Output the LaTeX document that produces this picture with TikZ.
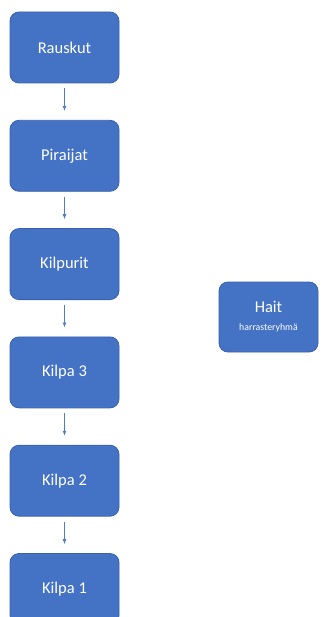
\documentclass[tikz,border=0pt]{standalone}
\usepackage{fontspec}
\setmainfont{Carlito}
\usepackage{tikz}
\usetikzlibrary{arrows.meta,positioning}
\definecolor{boxblue}{HTML}{4472C4}
\definecolor{boxedge}{HTML}{3A62AC}
\definecolor{arrowblue}{HTML}{4F7BC9}

\begin{document}
\begin{tikzpicture}[x=1pt, y=1pt,
  groupbox/.style={draw=boxedge, line width=0.8pt, fill=boxblue, rounded corners=9pt,
    minimum width=109pt, minimum height=71pt, inner sep=0pt, text=white,
    font=\fontsize{16.5}{19}\selectfont, align=center},
  flow/.style={arrowblue, line width=0.8pt, -{Latex[length=5pt, width=4pt]},
    shorten <=5pt, shorten >=9pt}]
  \useasboundingbox (0,0) rectangle (321,-617);
  \def\gap{108.3}
  % left column
  \node[groupbox] (rauskut) at (64.5,-47.5) {Rauskut};
  \node[groupbox] (piraijat) at (64.5,-47.5-\gap) {Piraijat};
  \node[groupbox] (kilpurit) at (64.5,-47.5-2*\gap) {Kilpurit};
  \node[groupbox] (kilpa3) at (64.5,-47.5-3*\gap) {Kilpa 3};
  \node[groupbox] (kilpa2) at (64.5,-47.5-4*\gap) {Kilpa 2};
  \node[groupbox] (kilpa1) at (64.5,-47.5-5*\gap) {Kilpa 1};
  % side group
  \node[groupbox, minimum width=99pt, minimum height=70pt] (hait) at (268.5,-317)
    {Hait\\[-1pt]{\fontsize{9.8}{12}\selectfont harrasteryhmä}};
  % arrows
  \draw[flow] (rauskut) -- (piraijat);
  \draw[flow] (piraijat) -- (kilpurit);
  \draw[flow] (kilpurit) -- (kilpa3);
  \draw[flow] (kilpa3) -- (kilpa2);
  \draw[flow] (kilpa2) -- (kilpa1);
\end{tikzpicture}
\end{document}
